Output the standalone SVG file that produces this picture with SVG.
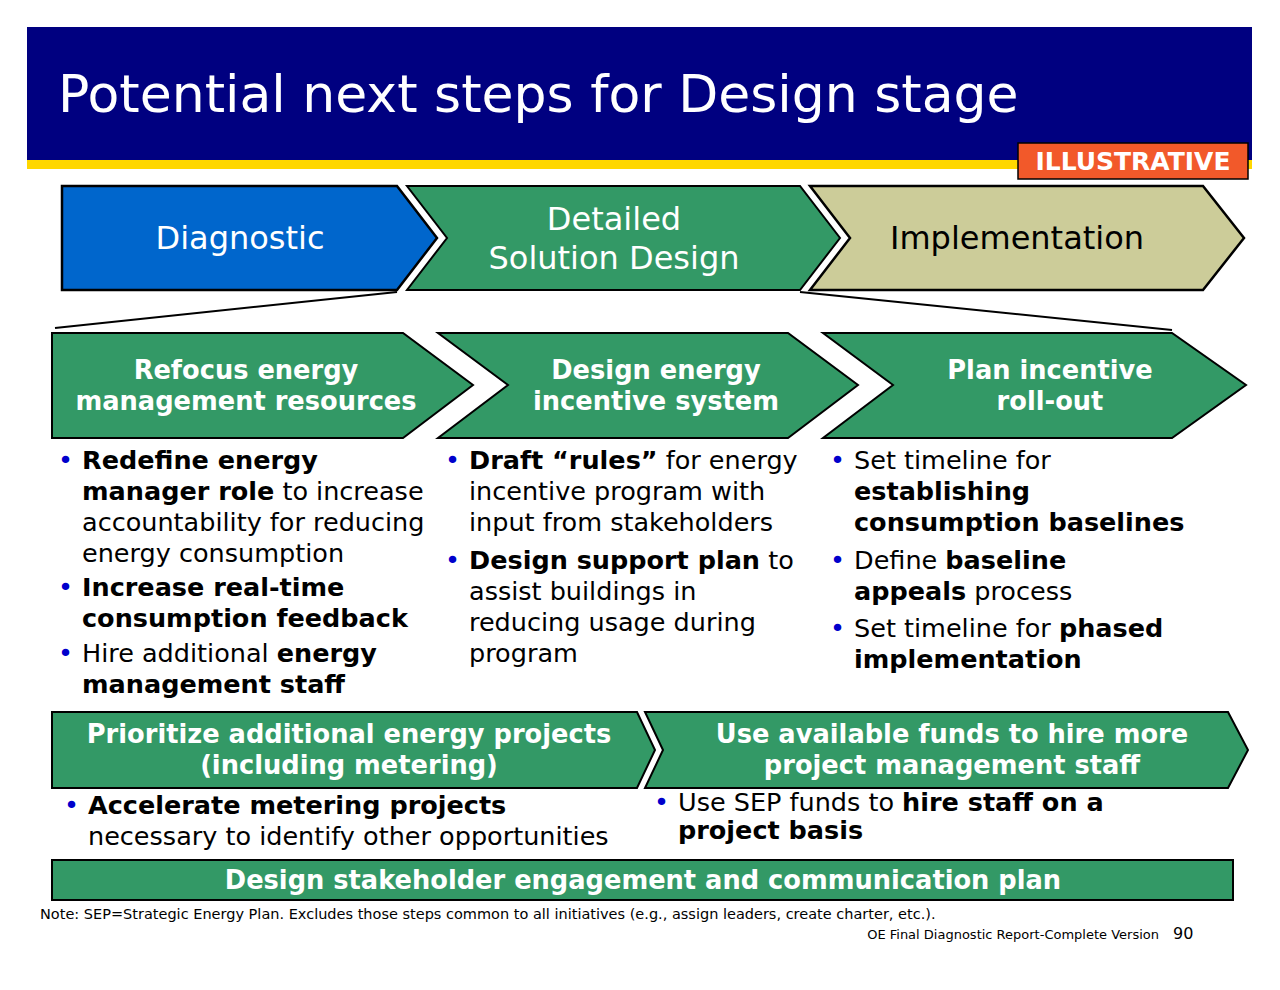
<svg xmlns="http://www.w3.org/2000/svg" width="1280" height="990" viewBox="0 0 1280 990">
<style>
text{font-family:"DejaVu Sans","Verdana",sans-serif}
.g{fill:#339966;stroke:#000;stroke-width:2}
.h{fill:#fff;font-weight:bold;font-size:25.7px;text-anchor:middle}
.b{font-size:25.5px;fill:#000}
.d{fill:#0000CC}
.k{font-weight:bold}
</style>
<rect x="27" y="27" width="1225" height="134" fill="#000080"/>
<rect x="27" y="160" width="1225" height="9" fill="#FFD700"/>
<text x="58" y="112" font-size="52" fill="#fff">Potential next steps for Design stage</text>
<g id="illustrative"><rect x="1018" y="143" width="230" height="36" fill="#F2592A" stroke="#000" stroke-width="1.5"/>
<text x="1133" y="170" fill="#fff" font-size="25" font-weight="bold" text-anchor="middle">ILLUSTRATIVE</text></g>
<g id="connectors" stroke="#000" stroke-width="2"><line x1="397" y1="292" x2="55" y2="328"/><line x1="800" y1="292" x2="1172" y2="330"/></g>
<g id="diagnostic"><polygon points="62,186 397,186 437,238 397,290 62,290" fill="#0066CC" stroke="#000" stroke-width="2.5"/>
<text x="240" y="249" fill="#fff" font-size="32" text-anchor="middle">Diagnostic</text></g>
<g id="detailed"><polygon class="g" points="407,186 800,186 840,238 800,290 407,290 447,238" stroke-width="2.5"/>
<text x="614" y="230" fill="#fff" font-size="32" text-anchor="middle">Detailed</text>
<text x="614" y="269" fill="#fff" font-size="32" text-anchor="middle">Solution Design</text></g>
<g id="implementation"><polygon points="810,186 1203,186 1244,238 1203,290 810,290 850,238" fill="#CCCC99" stroke="#000" stroke-width="2.5"/>
<text x="1017" y="249" fill="#000" font-size="32" text-anchor="middle">Implementation</text></g>
<g id="refocus"><polygon class="g" points="52,333 403,333 473,385 403,438 52,438"/>
<text class="h" x="246" y="379">Refocus energy</text><text class="h" x="246" y="410">management resources</text>
<text class="b" y="469"><tspan class="d" x="58">•</tspan><tspan x="82" class="k">Redefine energy</tspan><tspan x="82" dy="31"><tspan class="k">manager role</tspan> to increase</tspan><tspan x="82" dy="31">accountability for reducing</tspan><tspan x="82" dy="31">energy consumption</tspan></text>
<text class="b" y="596"><tspan class="d" x="58">•</tspan><tspan x="82" class="k">Increase real-time</tspan><tspan x="82" dy="31" class="k">consumption feedback</tspan></text>
<text class="b" y="662"><tspan class="d" x="58">•</tspan><tspan x="82">Hire additional <tspan class="k">energy</tspan></tspan><tspan x="82" dy="31" class="k">management staff</tspan></text></g>
<g id="design"><polygon class="g" points="438,333 788,333 858,385 788,438 438,438 508,385"/>
<text class="h" x="656" y="379">Design energy</text><text class="h" x="656" y="410">incentive system</text>
<text class="b" y="469"><tspan class="d" x="445">•</tspan><tspan x="469"><tspan class="k">Draft “rules”</tspan> for energy</tspan><tspan x="469" dy="31">incentive program with</tspan><tspan x="469" dy="31">input from stakeholders</tspan></text>
<text class="b" y="569"><tspan class="d" x="445">•</tspan><tspan x="469"><tspan class="k">Design support plan</tspan> to</tspan><tspan x="469" dy="31">assist buildings in</tspan><tspan x="469" dy="31">reducing usage during</tspan><tspan x="469" dy="31">program</tspan></text></g>
<g id="plan"><polygon class="g" points="823,333 1172,333 1246,385 1172,438 823,438 893,385"/>
<text class="h" x="1050" y="379">Plan incentive</text><text class="h" x="1050" y="410">roll-out</text>
<text class="b" y="469"><tspan class="d" x="830">•</tspan><tspan x="854">Set timeline for</tspan><tspan x="854" dy="31" class="k">establishing</tspan><tspan x="854" dy="31" class="k">consumption baselines</tspan></text>
<text class="b" y="569"><tspan class="d" x="830">•</tspan><tspan x="854">Define <tspan class="k">baseline</tspan></tspan><tspan x="854" dy="31"><tspan class="k">appeals</tspan> process</tspan></text>
<text class="b" y="637"><tspan class="d" x="830">•</tspan><tspan x="854">Set timeline for <tspan class="k">phased</tspan></tspan><tspan x="854" dy="31" class="k">implementation</tspan></text></g>
<g id="prioritize"><polygon class="g" points="52,712 637,712 655,750 637,788 52,788"/>
<text class="h" x="349" y="743">Prioritize additional energy projects</text><text class="h" x="349" y="774">(including metering)</text>
<text class="b" y="814"><tspan class="d" x="64">•</tspan><tspan x="88" class="k">Accelerate metering projects</tspan><tspan x="88" dy="31">necessary to identify other opportunities</tspan></text></g>
<g id="funds"><polygon class="g" points="645,712 1228,712 1248,750 1228,788 645,788 663,750"/>
<text class="h" x="952" y="743">Use available funds to hire more</text><text class="h" x="952" y="774">project management staff</text>
<text class="b" y="811"><tspan class="d" x="654">•</tspan><tspan x="678">Use SEP funds to <tspan class="k">hire staff on a</tspan></tspan><tspan x="678" dy="28" class="k">project basis</tspan></text></g>
<g id="stakeholder"><rect x="52" y="860" width="1181" height="40" class="g"/>
<text class="h" x="643" y="889">Design stakeholder engagement and communication plan</text></g>
<text x="40" y="919" font-size="14.5">Note: SEP=Strategic Energy Plan.  Excludes those steps common to all initiatives (e.g., assign leaders, create charter, etc.).</text>
<text x="1159" y="939" font-size="13" text-anchor="end">OE Final Diagnostic Report-Complete Version</text>
<text x="1173" y="939" font-size="16">90</text>
</svg>
